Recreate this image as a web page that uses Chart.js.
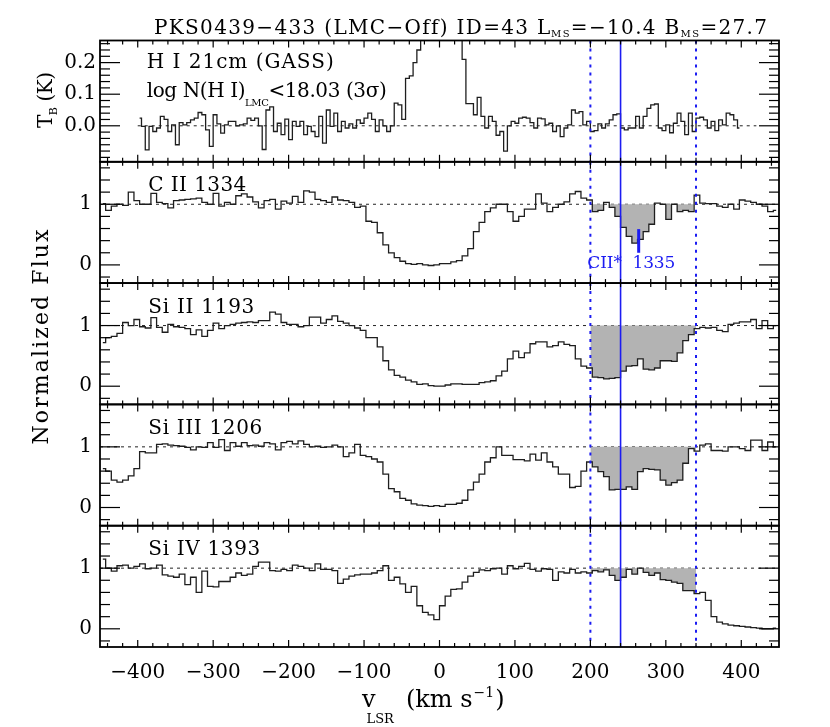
<!DOCTYPE html>
<html><head><meta charset="utf-8">
<script src="https://cdn.jsdelivr.net/npm/chart.js@4.4.1/dist/chart.umd.min.js"></script>
<style>
html,body{margin:0;padding:0;background:#fff;}
#wrap{position:relative;width:830px;height:727px;background:#fff;}
#wrap canvas{position:absolute;left:0;top:0;}
</style></head><body><div id="wrap"></div>
<script>
// ---------------- DATA ----------------
const velCOS = [
-446.25,-438.75,-431.25,-423.75,-416.25,-408.75,-401.25,-393.75,-386.25,-378.75,
-371.25,-363.75,-356.25,-348.75,-341.25,-333.75,-326.25,-318.75,-311.25,-303.75,
-296.25,-288.75,-281.25,-273.75,-266.25,-258.75,-251.25,-243.75,-236.25,-228.75,
-221.25,-213.75,-206.25,-198.75,-191.25,-183.75,-176.25,-168.75,-161.25,-153.75,
-146.25,-138.75,-131.25,-123.75,-116.25,-108.75,-101.25,-93.75,-86.25,-78.75,
-71.25,-63.75,-56.25,-48.75,-41.25,-33.75,-26.25,-18.75,-11.25,-3.75,
3.75,11.25,18.75,26.25,33.75,41.25,48.75,56.25,63.75,71.25,
78.75,86.25,93.75,101.25,108.75,116.25,123.75,131.25,138.75,146.25,
153.75,161.25,168.75,176.25,183.75,191.25,198.75,206.25,213.75,221.25,
228.75,236.25,243.75,251.25,258.75,266.25,273.75,281.25,288.75,296.25,
303.75,311.25,318.75,326.25,333.75,341.25,348.75,356.25,363.75,371.25,
378.75,386.25,393.75,401.25,408.75,416.25,423.75,431.25,438.75,446.25];

const velHI = [
-397.5,-392.5,-387.5,-382.5,-377.5,-372.5,-367.5,-362.5,-357.5,-352.5,
-347.5,-342.5,-337.5,-332.5,-327.5,-322.5,-317.5,-312.5,-307.5,-302.5,
-297.5,-292.5,-287.5,-282.5,-277.5,-272.5,-267.5,-262.5,-257.5,-252.5,
-247.5,-242.5,-237.5,-232.5,-227.5,-222.5,-217.5,-212.5,-207.5,-202.5,
-197.5,-192.5,-187.5,-182.5,-177.5,-172.5,-167.5,-162.5,-157.5,-152.5,
-147.5,-142.5,-137.5,-132.5,-127.5,-122.5,-117.5,-112.5,-107.5,-102.5,
-97.5,-92.5,-87.5,-82.5,-77.5,-72.5,-67.5,-62.5,-57.5,-52.5,
-47.5,-42.5,-37.5,-32.5,-27.5,-22.5,-17.5,-12.5,-7.5,-2.5,
2.5,7.5,12.5,17.5,22.5,27.5,32.5,37.5,42.5,47.5,
52.5,57.5,62.5,67.5,72.5,77.5,82.5,87.5,92.5,97.5,
102.5,107.5,112.5,117.5,122.5,127.5,132.5,137.5,142.5,147.5,
152.5,157.5,162.5,167.5,172.5,177.5,182.5,187.5,192.5,197.5,
202.5,207.5,212.5,217.5,222.5,227.5,232.5,237.5,242.5,247.5,
252.5,257.5,262.5,267.5,272.5,277.5,282.5,287.5,292.5,297.5,
302.5,307.5,312.5,317.5,322.5,327.5,332.5,337.5,342.5,347.5,
352.5,357.5,362.5,367.5,372.5,377.5,382.5,387.5,392.5,397.5];

const hiTB = [
0.024,-0.002,-0.076,-0.002,-0.018,-0.007,0.030,0.020,-0.018,0.003,
-0.060,0.010,0.003,0.010,0.019,0.024,0.042,0.035,-0.013,-0.065,
0.035,0.006,-0.023,0.003,0.014,0.014,0.000,0.003,0.006,0.024,
0.017,0.024,0.000,-0.075,0.050,0.060,-0.018,0.008,-0.028,0.021,
-0.044,0.014,-0.002,0.014,-0.028,-0.002,-0.018,-0.034,0.030,-0.055,
0.050,-0.002,0.040,-0.018,0.014,-0.007,0.006,-0.007,0.019,0.008,
0.024,0.040,0.020,-0.018,0.019,0.000,-0.018,0.000,0.072,0.066,
0.020,0.150,0.158,0.200,0.240,0.450,1.200,2.500,4.000,5.000,
5.200,4.500,3.000,1.500,0.700,0.350,0.210,0.070,0.070,0.035,
0.090,0.030,-0.007,0.030,0.014,-0.030,-0.018,-0.080,0.000,0.014,
0.008,0.024,0.027,0.024,0.010,-0.007,0.024,0.022,0.003,0.008,
-0.018,0.000,-0.034,-0.007,0.003,0.050,0.040,0.045,0.003,0.014,
-0.018,-0.015,0.006,-0.007,0.006,0.019,0.035,0.038,-0.007,-0.013,
-0.007,-0.007,0.030,-0.007,0.030,0.055,0.066,0.069,-0.007,-0.015,
0.003,-0.022,0.008,0.040,0.014,-0.028,0.040,-0.018,0.024,0.027,
0.019,-0.007,0.014,-0.015,0.019,0.003,0.040,0.035,0.019,-0.007];

const fluxCII = [
1.01,0.90,0.97,1.00,0.98,1.20,1.06,1.00,1.00,1.18,
1.03,1.01,0.94,1.06,1.07,1.08,1.09,1.10,1.03,1.00,
1.18,0.97,1.03,1.00,1.14,1.17,1.12,1.04,0.94,1.06,
1.08,0.92,1.05,1.02,1.13,1.03,1.22,1.20,1.08,1.06,
1.03,1.12,1.07,1.06,1.03,0.95,0.97,0.72,0.70,0.53,
0.33,0.20,0.12,0.06,0.02,0.01,0.02,0.00,-0.01,0.00,
0.02,0.02,0.05,0.07,0.15,0.27,0.55,0.70,0.88,0.94,
1.00,1.00,0.88,0.72,0.80,0.92,0.92,1.17,1.02,0.88,
0.95,1.00,1.04,1.17,1.21,1.10,1.07,0.88,0.90,1.03,
0.95,0.80,0.62,0.47,0.36,0.42,0.55,0.67,1.02,1.00,
0.75,1.00,0.88,0.90,0.88,1.15,1.02,1.01,1.01,0.97,
0.95,1.00,0.92,1.07,1.05,1.03,1.00,0.97,0.88,0.90];

const fluxSiII = [
0.72,0.80,0.82,0.87,1.05,1.00,1.10,0.98,0.96,1.13,
0.97,0.89,1.02,0.98,0.97,0.95,0.85,0.93,0.82,0.92,
1.04,0.95,1.00,1.02,1.04,1.05,1.06,1.05,1.08,1.08,
1.22,1.19,1.05,1.02,1.02,0.98,1.00,1.14,1.14,1.04,
1.10,1.16,1.07,1.04,1.00,0.96,0.92,0.80,0.80,0.65,
0.42,0.27,0.18,0.15,0.10,0.07,0.03,0.04,0.01,0.00,
0.00,0.02,0.04,0.04,0.03,0.03,0.03,0.06,0.07,0.09,
0.17,0.25,0.45,0.58,0.47,0.55,0.70,0.73,0.73,0.65,
0.67,0.73,0.69,0.67,0.45,0.33,0.30,0.15,0.14,0.12,
0.13,0.14,0.25,0.33,0.34,0.45,0.28,0.27,0.30,0.42,
0.42,0.41,0.55,0.75,0.85,0.95,0.97,0.96,0.97,0.92,
0.90,1.02,1.04,1.06,1.06,1.10,0.95,1.08,0.95,1.00];

const fluxSiIII = [
0.64,0.60,0.45,0.42,0.45,0.52,0.64,0.92,0.90,0.90,
1.04,1.05,1.03,1.02,1.01,0.99,0.95,1.00,0.99,1.07,
0.99,1.12,0.94,1.07,1.01,1.07,1.02,1.03,1.01,1.07,
1.05,0.95,1.07,1.09,1.05,1.10,1.04,1.00,1.01,0.99,
1.00,1.03,1.00,0.84,0.90,1.04,0.86,0.84,0.80,0.75,
0.55,0.31,0.26,0.15,0.12,0.06,0.04,0.03,0.02,0.03,
0.02,0.05,0.05,0.07,0.12,0.29,0.42,0.55,0.75,0.82,
1.00,0.86,0.86,0.79,0.79,0.77,0.88,0.78,0.90,0.75,
0.67,0.55,0.55,0.33,0.35,0.60,0.75,0.67,0.59,0.51,
0.29,0.30,0.30,0.34,0.30,0.59,0.64,0.63,0.62,0.45,
0.37,0.41,0.45,0.73,0.97,0.93,1.03,1.05,0.94,0.94,
0.93,1.00,1.00,0.97,0.94,1.11,1.11,0.94,1.08,1.00];

const fluxSiIV = [
1.15,1.00,0.95,1.04,1.05,1.00,1.03,1.07,0.99,1.00,
1.05,0.89,0.87,0.85,0.90,0.73,0.85,0.60,0.95,0.70,
0.69,0.78,0.78,0.85,0.92,0.88,0.90,1.03,1.10,1.10,
0.96,0.95,0.98,0.96,1.05,1.03,1.00,0.96,1.07,0.98,
0.98,0.96,0.75,0.82,0.87,0.89,0.90,0.90,0.92,0.96,
1.04,0.80,0.85,0.74,0.60,0.70,0.38,0.27,0.23,0.15,
0.38,0.54,0.65,0.66,0.77,0.87,0.93,0.97,0.96,0.99,
1.00,0.90,1.04,0.99,1.03,1.08,0.98,0.95,0.99,0.98,
0.80,0.94,0.92,0.98,0.92,0.94,0.92,0.96,0.94,0.97,
0.88,0.80,0.85,0.98,0.90,1.00,0.93,0.88,0.92,0.81,
0.80,0.77,0.75,0.63,0.63,0.58,0.60,0.47,0.20,0.11,
0.08,0.06,0.05,0.04,0.03,0.02,0.01,0.00,0.00,0.01];

const ionLabels = ['C II 1334', 'Si II 1193', 'Si III 1206', 'Si IV 1393'];
const xTickValues = [-400,-300,-200,-100,0,100,200,300,400];
const fluxTickValues = [0, 1];
const hiTickValues = [0.0, 0.1, 0.2];
const lmcRange = [200, 340];        // integration window (dotted blue)
const lmcCentreVel = 240;           // solid blue line
const ciiStarVel = 264;             // C II* 1335 marker
const ciiStarFlux = [0.2, 0.59];
const hiZeroRange = [-400, 420];
const titleText = ['PKS0439\u2212433 (LMC\u2212Off) ID=43 L', 'MS', '=\u221210.4 B', 'MS', '=27.7'];

// ---------------- STYLE / LAYOUT ----------------
const FONT = '"DejaVu Serif", serif';
const BLUE = '#1c1cf2';
const X_MIN = -450, X_MAX = 450;
const edges = [40.5, 161.8, 283.1, 404.4, 525.7, 647];
const wrap = document.getElementById('wrap');

function seg(ctx, x1, y1, x2, y2){ ctx.beginPath(); ctx.moveTo(x1,y1); ctx.lineTo(x2,y2); ctx.stroke(); }

// rich text: segs = [{t,size,dy,dx}]
function drawRich(ctx, segs, x, y, o){
  o = o || {};
  const widths = segs.map(s => { ctx.font = s.size + 'px ' + FONT; return ctx.measureText(s.t).width; });
  let natural = widths.reduce((a,b)=>a+b,0) + segs.reduce((a,s)=>a+(s.dx||0),0);
  let nch = segs.reduce((a,s)=>a+s.t.length,0);
  let ls = 0;
  if (o.target) ls = (o.target - natural) / Math.max(1, nch - 1);
  const total = natural + ls * (nch - 1);
  let cx = o.align === 'center' ? x - total/2 : x;
  ctx.textAlign = 'left'; ctx.textBaseline = 'alphabetic';
  segs.forEach((s,i) => {
    ctx.font = s.size + 'px ' + FONT;
    cx += (s.dx||0);
    if ('letterSpacing' in ctx) ctx.letterSpacing = ls + 'px';
    ctx.fillText(s.t, cx, y + (s.dy||0));
    cx += widths[i] + ls * s.t.length;
  });
  if ('letterSpacing' in ctx) ctx.letterSpacing = '0px';
}

const panelDecor = {
  id: 'panelDecor',
  afterDatasetsDraw(chart, args, o){
    const ctx = chart.ctx, ca = chart.chartArea, xs = chart.scales.x, ys = chart.scales.y;
    ctx.save();
    // blue velocity markers
    ctx.strokeStyle = BLUE; ctx.lineWidth = 2; ctx.setLineDash([3,5]);
    lmcRange.forEach(v => { const p = xs.getPixelForValue(v); seg(ctx, p, ca.top, p, ca.bottom); });
    ctx.setLineDash([]); ctx.lineWidth = 1.6;
    { const p = xs.getPixelForValue(lmcCentreVel); seg(ctx, p, ca.top, p, ca.bottom); }
    // frame
    ctx.strokeStyle = '#000'; ctx.lineWidth = 1.8;
    ctx.strokeRect(ca.left, ca.top, ca.right - ca.left, ca.bottom - ca.top);
    // x ticks (inward, top & bottom)
    ctx.lineWidth = 1.2;
    for (let k = -22; k <= 22; k++) {
      const v = k * 20; const p = xs.getPixelForValue(v);
      const L = (v % 100 === 0) ? 7 : 4;
      seg(ctx, p, ca.bottom, p, ca.bottom - L);
      seg(ctx, p, ca.top, p, ca.top + L);
    }
    // y ticks (inward, left & right)
    const st = o.yStep;
    for (let k = Math.ceil(ys.min / st + 1e-6); k * st < ys.max - 1e-6; k++) {
      const v = k * st; const p = ys.getPixelForValue(v);
      const major = o.yMajor.some(m => Math.abs(m - v) < 1e-6);
      const L = major ? 20 : 10;
      seg(ctx, ca.left, p, ca.left + L, p);
      seg(ctx, ca.right, p, ca.right - L, p);
    }
    // labels
    ctx.fillStyle = '#000';
    (o.labels || []).forEach(l => drawRich(ctx, l.segs, l.x, ca.top + l.dy, {target: l.w}));
    if (o.extra) o.extra(chart);
    ctx.restore();
  }
};

function stepLine(vel, vals){
  return { data: vel.map((v,i)=>({x:v, y:vals[i]})), stepped:'middle', borderColor:'#1e1e1e',
           borderWidth:1.3, pointRadius:0, fill:false };
}
function shadeSet(flux){
  const [a,b] = lmcRange;
  const pts = [];
  const iA = velCOS.findIndex(v => v + 3.75 > a);
  const iB = velCOS.findIndex(v => v + 3.75 > b);
  pts.push({x:a, y:Math.min(flux[iA],1)});
  velCOS.forEach((v,i)=>{ if (v > a && v < b) pts.push({x:v, y:Math.min(flux[i],1)}); });
  pts.push({x:b, y:Math.min(flux[iB],1)});
  return { data: pts, stepped:'middle', borderWidth:0, borderColor:'rgba(0,0,0,0)', pointRadius:0,
           backgroundColor:'#b3b3b3', fill:{value:1} };
}
function refLine(x0, x1, y){
  return { data:[{x:x0,y:y},{x:x1,y:y}], borderColor:'#222', borderWidth:1, borderDash:[3,4],
           pointRadius:0, fill:false };
}

function makeChart(idx, opt){
  const cv = document.createElement('canvas');
  cv.width = 830; cv.height = 727; cv.style.width = '830px'; cv.style.height = '727px';
  wrap.appendChild(cv);
  const isBottom = idx === 4;
  const xScale = { type:'linear', min:X_MIN, max:X_MAX, display:isBottom,
             grid:{display:false, drawTicks:false}, border:{display:false},
             ticks:{ autoSkip:false, maxRotation:0, padding:14, color:'#000',
                     font:{family:FONT, size:20}, callback: v => String(v).replace('-', '\u2212') },
             afterBuildTicks: s => { s.ticks = xTickValues.map(v => ({value:v})); } };
  if (isBottom) xScale.afterFit = s => { s.height = 727 - edges[5]; };
  return new Chart(cv, {
    type: 'line',
    data: { datasets: opt.datasets },
    options: {
      responsive:false, animation:false, devicePixelRatio:1, events:[],
      layout: { padding: { left:0, right:51, top:edges[idx], bottom: isBottom ? 0 : 727 - edges[idx+1] } },
      plugins: { legend:{display:false}, tooltip:{enabled:false}, panelDecor: opt.decor },
      scales: {
        x: xScale,
        y: { type:'linear', min:opt.ymin, max:opt.ymax,
             grid:{display:false, drawTicks:false}, border:{display:false},
             ticks:{ autoSkip:false, padding:opt.ypad, color:'#000', font:{family:FONT, size:20},
                     callback: opt.yfmt },
             afterBuildTicks: s => { s.ticks = opt.yticks.map(v => ({value:v})); },
             afterFit: s => { s.width = 100; } }
      }
    },
    plugins: [panelDecor]
  });
}

// ---- top panel: H I ----
makeChart(0, {
  ymin:-0.114, ymax:0.27, yticks:hiTickValues, ypad:4, yfmt: v => v.toFixed(1),
  datasets: [ stepLine(velHI, hiTB), refLine(hiZeroRange[0], hiZeroRange[1], 0) ],
  decor: {
    yStep:0.02, yMajor:hiTickValues,
    labels: [
      { x:146.7, dy:27.8, w:187, segs:[{t:'H I 21cm (GASS)', size:20}] },
      { x:146.7, dy:56.8, w:240, segs:[{t:'log N(H I)', size:20},{t:'LMC', size:10, dy:8.5},{t:'<18.03 (3\u03c3)', size:20}] }
    ],
    extra: (chart) => {
      const ctx = chart.ctx;
      // title
      drawRich(ctx, [
        {t:titleText[0], size:20},{t:titleText[1], size:10, dy:3},
        {t:titleText[2], size:20},{t:titleText[3], size:10, dy:3},{t:titleText[4], size:20}
      ], 154, 34.3, {target:613});
      // y title: T_B (K)
      ctx.save(); ctx.translate(52, 100); ctx.rotate(-Math.PI/2);
      drawRich(ctx, [{t:'T', size:20},{t:'B', size:11, dy:5},{t:' (K)', size:20}], 0, 0, {align:'center', target:56});
      ctx.restore();
    }
  }
});

// ---- metal panels ----
const metalFlux = [fluxCII, fluxSiII, fluxSiIII, fluxSiIV];
metalFlux.forEach((flux, k) => {
  const idx = k + 1;
  const decor = {
    yStep:0.2, yMajor:fluxTickValues,
    labels: [ { x:148.3, dy:29.5, w:[98,106,114,112][k], segs:[{t:ionLabels[k], size:20}] } ]
  };
  if (k === 0) {
    decor.extra = (chart) => {
      const ctx = chart.ctx, xs = chart.scales.x, ys = chart.scales.y;
      ctx.strokeStyle = BLUE; ctx.lineWidth = 3;
      const p = xs.getPixelForValue(ciiStarVel);
      seg(ctx, p, ys.getPixelForValue(ciiStarFlux[1]), p, ys.getPixelForValue(ciiStarFlux[0]));
      ctx.fillStyle = BLUE;
      drawRich(ctx, [{t:'CII*  1335', size:17}], xs.getPixelForValue(196), ys.getPixelForValue(-0.05), {target:88});
    };
  }
  if (idx === 4) {
    decor.extra = (chart) => {
      const ctx = chart.ctx;
      ctx.fillStyle = '#000';
      drawRich(ctx, [{t:'v', size:24},{t:'LSR', size:13, dy:16, dx:-9},{t:'(km s', size:24, dx:12},
                     {t:'\u22121', size:14, dy:-10, dx:1},{t:')', size:24, dx:1}], 362, 707, {});
      ctx.save(); ctx.translate(48, 337); ctx.rotate(-Math.PI/2);
      drawRich(ctx, [{t:'Normalized Flux', size:22}], 0, 0, {align:'center', target:215});
      ctx.restore();
    };
  }
  makeChart(idx, {
    ymin:-0.3, ymax:1.7, yticks:fluxTickValues, ypad:8, yfmt: v => String(v),
    datasets: [ stepLine(velCOS, flux), shadeSet(flux), refLine(X_MIN, X_MAX, 1) ],
    decor
  });
});
</script></body></html>
